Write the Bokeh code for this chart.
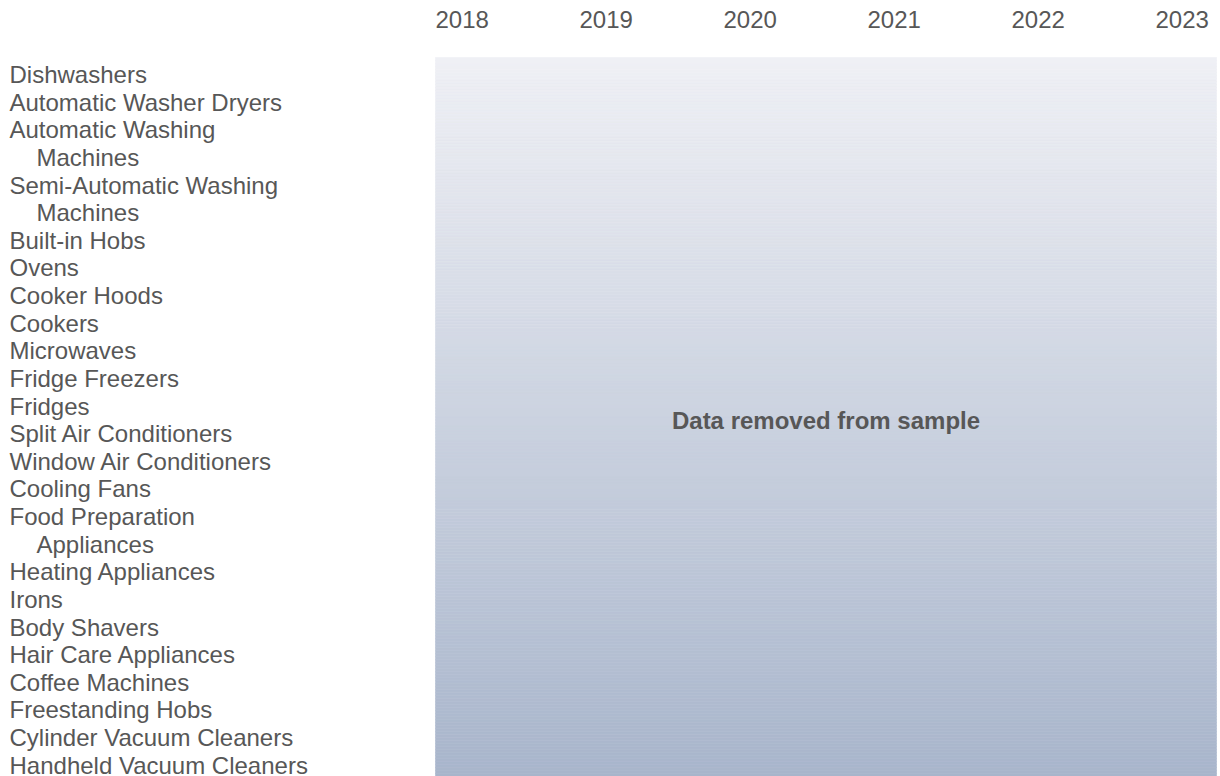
import textwrap
import numpy as np
from bokeh.plotting import figure
from bokeh.models import Range1d, ColumnDataSource
from bokeh.core.properties import value
from bokeh.embed import file_html
from bokeh.resources import INLINE

# ---- data ----
years = [2018, 2019, 2020, 2021, 2022, 2023]
year_labels = [str(y) for y in years]
categories = [
    "Dishwashers",
    "Automatic Washer Dryers",
    "Automatic Washing Machines",
    "Semi-Automatic Washing Machines",
    "Built-in Hobs",
    "Ovens",
    "Cooker Hoods",
    "Cookers",
    "Microwaves",
    "Fridge Freezers",
    "Fridges",
    "Split Air Conditioners",
    "Window Air Conditioners",
    "Cooling Fans",
    "Food Preparation Appliances",
    "Heating Appliances",
    "Irons",
    "Body Shavers",
    "Hair Care Appliances",
    "Coffee Machines",
    "Freestanding Hobs",
    "Cylinder Vacuum Cleaners",
    "Handheld Vacuum Cleaners",
]
note = "Data removed from sample"

# ---- layout / style (pixel geometry of the canvas) ----
W, H = 1220, 776
PX_PER_YEAR = 144.0
PX_PER_LINE = 27.63
FIRST_MID = 74.0               # vertical middle of the first label line
LABEL_X_PX = 9.0
INDENT_PX = 27.0
PANEL_LEFT_PX = 435.0
PANEL_RIGHT_PX = 1216.0
PANEL_TOP_PX = 57.0
YEAR_MID_PX = 18.7
NOTE_SHIFT_PX = 3.0
FONT = "Liberation Sans"
TXT = "#575757"
TOP_COL = np.array([239, 240, 245])
BOT_COL = np.array([168, 181, 203])

x0 = years[0] - PANEL_LEFT_PX / PX_PER_YEAR
x1 = x0 + W / PX_PER_YEAR
y_top = -FIRST_MID / PX_PER_LINE
y_bot = y_top + H / PX_PER_LINE

p = figure(width=W, height=H, output_backend="svg", toolbar_location=None,
           x_range=Range1d(x0, x1), y_range=Range1d(y_bot, y_top),
           min_border=0, min_border_left=0, min_border_right=0,
           min_border_top=0, min_border_bottom=0)
p.axis.visible = False
p.grid.visible = False
p.outline_line_color = None
p.background_fill_color = "white"
p.border_fill_color = "white"

# ---- gradient panel ----
panel_l = years[0]
panel_r = x0 + PANEL_RIGHT_PX / PX_PER_YEAR
panel_t = y_top + PANEL_TOP_PX / PX_PER_LINE
panel_b = y_bot
n = 240
edges = np.linspace(panel_t, panel_b, n + 1)
fr = (np.arange(n) + 0.5) / n
cols = ["#%02x%02x%02x" % tuple(np.round(TOP_COL + (BOT_COL - TOP_COL) * f).astype(int)) for f in fr]
p.quad(left=[panel_l] * n, right=[panel_r] * n, top=list(edges[:-1]), bottom=list(edges[1:]),
       fill_color=cols, line_color=cols, line_width=0.6)

# ---- category labels ----
lines, ys, xo = [], [], []
idx = 0
for cat in categories:
    parts = textwrap.wrap(cat, 24)
    for j, part in enumerate(parts):
        lines.append(part)
        ys.append(idx)
        xo.append(LABEL_X_PX + (0 if j == 0 else INDENT_PX))
        idx += 1
src = ColumnDataSource(dict(x=[x0] * len(lines), y=ys, text=lines, xo=xo))
p.text(x="x", y="y", text="text", x_offset="xo", source=src,
       text_font=value(FONT), text_font_size="24px", text_color=TXT,
       text_align="left", text_baseline="middle")

# ---- year labels ----
year_y = y_top + YEAR_MID_PX / PX_PER_LINE
p.text(x=years, y=[year_y] * len(years), text=year_labels,
       text_font=value(FONT), text_font_size="24px", text_color=TXT,
       text_align="left", text_baseline="middle")

# ---- note ----
note_y = (panel_t + panel_b) / 2 + NOTE_SHIFT_PX / PX_PER_LINE
p.text(x=[(panel_l + panel_r) / 2], y=[note_y], text=[note],
       text_font=value(FONT), text_font_size="24px", text_font_style="bold",
       text_color=TXT, text_align="center", text_baseline="middle")

open("out.html", "w").write(file_html(p, INLINE))
